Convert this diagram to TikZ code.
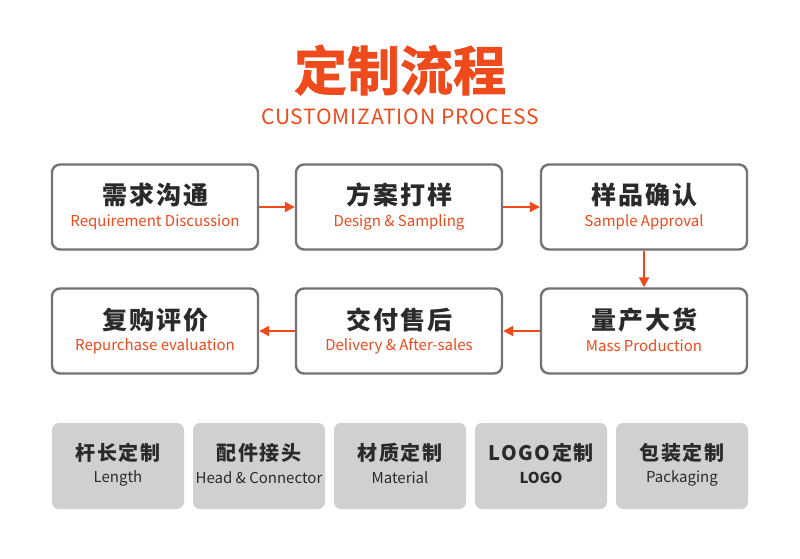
\documentclass[tikz,border=0pt]{standalone}
\usepackage{fontspec}
\setmainfont{Noto Sans CJK SC}
\newfontfamily\cjk{Noto Sans CJK SC}
\newfontfamily\cjkspaced[LetterSpace=8]{Noto Sans CJK SC}
\newfontfamily\cjkheavy[FakeBold=1.6]{Noto Sans CJK SC Bold}
\newfontfamily\subfont[LetterSpace=4]{Noto Sans CJK SC}
\usetikzlibrary{arrows.meta}
\definecolor{org}{HTML}{EE4A1C}
\definecolor{txt}{HTML}{2A2A2A}
\definecolor{bord}{HTML}{737373}
\definecolor{gbox}{HTML}{D0D0D0}
\tikzset{
  stepbox/.style={draw=bord, line width=2.4pt, rounded corners=8pt, fill=white,
    minimum width=206pt, minimum height=85pt, inner sep=0pt},
  optbox/.style={fill=gbox, rounded corners=7pt, minimum width=132pt,
    minimum height=86pt, inner sep=0pt},
  cnt/.style={font=\cjkspaced\bfseries\fontsize{25}{27}\selectfont, text=txt},
  eng/.style={font=\cjk\fontsize{15}{17}\selectfont, text=org},
  ocnt/.style={font=\cjkspaced\bfseries\fontsize{20}{22}\selectfont, text=txt},
  oeng/.style={font=\cjk\fontsize{15}{17}\selectfont, text=txt},
  flow/.style={draw=org, line width=2pt, -{Triangle[length=10pt,width=10pt]}}
}
\begin{document}
\begin{tikzpicture}[x=1pt,y=-1pt]
\useasboundingbox[fill=white] (0,0) rectangle (800,559);
\node[font=\cjkheavy\fontsize{53}{56}\selectfont, text=org] (title) at (400,70) {定制流程};
\node[font=\subfont\fontsize{21}{24}\selectfont, text=org] (sub) at (400,117) {CUSTOMIZATION PROCESS};

\node[stepbox] (s1) at (155,207) {};
\node[stepbox] (s2) at (399,207) {};
\node[stepbox] (s3) at (644,207) {};
\node[stepbox] (s4) at (644,331) {};
\node[stepbox] (s5) at (399,331) {};
\node[stepbox] (s6) at (155,331) {};

\node[cnt] (t1) at (155,195) {需求沟通};
\node[eng] (e1) at (155,222) {Requirement Discussion};
\node[cnt] (t2) at (399,195) {方案打样};
\node[eng] (e2) at (399,222) {Design \& Sampling};
\node[cnt] (t3) at (644,195) {样品确认};
\node[eng] (e3) at (644,222) {Sample Approval};
\node[cnt] (t4) at (644,320) {量产大货};
\node[eng] (e4) at (644,346) {Mass Production};
\node[cnt] (t5) at (399,320) {交付售后};
\node[eng] (e5) at (399,346) {Delivery \& After-sales};
\node[cnt] (t6) at (155,320) {复购评价};
\node[eng] (e6) at (155,346) {Repurchase evaluation};

\draw[flow] (s1) -- (s2);
\draw[flow] (s2) -- (s3);
\draw[flow] (s3) -- (s4);
\draw[flow] (s4) -- (s5);
\draw[flow] (s5) -- (s6);

\node[optbox] (o1) at (118,466) {};
\node[optbox] (o2) at (259,466) {};
\node[optbox] (o3) at (400,466) {};
\node[optbox] (o4) at (541,466) {};
\node[optbox] (o5) at (682,466) {};
\node[ocnt] (p1) at (118,453) {杆长定制};
\node[oeng] (q1) at (118,478) {Length};
\node[ocnt] (p2) at (259,453) {配件接头};
\node[oeng] (q2) at (259,478) {Head \& Connector};
\node[ocnt] (p3) at (400,453) {材质定制};
\node[oeng] (q3) at (400,478) {Material};
\node[ocnt] (p4) at (541,453) {LOGO定制};
\node[oeng, font=\cjk\bfseries\fontsize{15}{17}\selectfont] (q4) at (541,478) {LOGO};
\node[ocnt] (p5) at (682,453) {包装定制};
\node[oeng] (q5) at (682,478) {Packaging};
\end{tikzpicture}
\end{document}
